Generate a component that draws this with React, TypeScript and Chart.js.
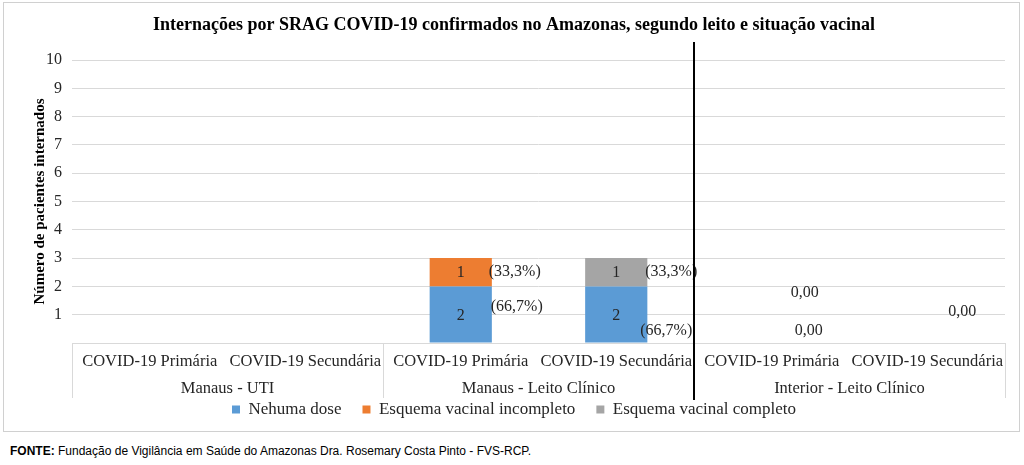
import React, { useEffect, useRef } from "react";
import { Chart, registerables } from "chart.js";

Chart.register(...registerables);

// ---- data ----
const subCategories = [
  "COVID-19 Primária",
  "COVID-19 Secundária",
  "COVID-19 Primária",
  "COVID-19 Secundária",
  "COVID-19 Primária",
  "COVID-19 Secundária",
];
const groups = ["Manaus - UTI", "Manaus - Leito Clínico", "Interior - Leito Clínico"];
const seriesNames = ["Nehuma dose", "Esquema vacinal incompleto", "Esquema vacinal completo"];
const nenhumaDose = [0, 0, 2, 2, 0, 0];
const incompleto = [0, 0, 1, 0, 0, 0];
const completo = [0, 0, 0, 1, 0, 0];
const yTicks = [1, 2, 3, 4, 5, 6, 7, 8, 9, 10];
const noteTexts = ["(66,7%)", "(33,3%)", "(33,3%)", "(66,7%)", "0,00", "0,00", "0,00"];
const noteCategory = [2, 2, 3, 3, 4, 4, 5];

// ---- label layout (positions only) ----
const noteValue = [1.27, 2.5, 2.5, 0.42, 1.77, 0.42, 1.1];
const noteDx = [30, 28, 29, 24, 33, 37, 35];
const noteAlign: CanvasTextAlign[] = ["left", "left", "left", "left", "center", "center", "center"];

const COLORS = ["#5b9bd5", "#ed7d31", "#a5a5a5"];
const SERIF = "'Liberation Serif', 'Times New Roman', serif";
const TEXT = "#262626";

const overlay = {
  id: "overlay",
  afterDraw(chart: any) {
    const { ctx, chartArea, scales } = chart;
    const xs = scales.x;
    const ys = scales.y;
    const bottom = chartArea.bottom;
    ctx.save();

    // table lines under axis
    ctx.strokeStyle = "#d9d9d9";
    ctx.lineWidth = 1;
    const bounds = [-0.5, 1.5, 3.5, 5.5];
    bounds.forEach((b) => {
      const px = Math.round(xs.getPixelForValue(b)) + 0.5;
      ctx.beginPath();
      ctx.moveTo(px, bottom);
      ctx.lineTo(px, bottom + 55);
      ctx.stroke();
    });

    // category labels
    ctx.fillStyle = TEXT;
    ctx.font = `16.5px ${SERIF}`;
    ctx.textAlign = "center";
    ctx.textBaseline = "middle";
    subCategories.forEach((s, i) => {
      ctx.fillText(s, xs.getPixelForValue(i), bottom + 19);
    });
    groups.forEach((g, gi) => {
      ctx.fillText(g, xs.getPixelForValue(gi * 2 + 0.5), bottom + 46);
    });

    // bar values
    ctx.font = `16px ${SERIF}`;
    chart.data.datasets.forEach((ds: any, di: number) => {
      const meta = chart.getDatasetMeta(di);
      meta.data.forEach((el: any, i: number) => {
        const v = ds.data[i];
        if (!v) return;
        const p = el.getProps(["x", "y", "base"], true);
        ctx.fillText(String(v), p.x, (p.y + p.base) / 2 + 1);
      });
    });

    // notes
    noteTexts.forEach((t, k) => {
      ctx.textAlign = noteAlign[k];
      ctx.fillText(t, xs.getPixelForValue(noteCategory[k]) + noteDx[k], ys.getPixelForValue(noteValue[k]));
    });

    // y axis title
    ctx.save();
    ctx.translate(40, (chartArea.top + chartArea.bottom) / 2);
    ctx.rotate(-Math.PI / 2);
    ctx.textAlign = "center";
    ctx.fillStyle = "#000";
    ctx.font = `bold 15px ${SERIF}`;
    ctx.fillText("Número de pacientes internados", 0, 0);
    ctx.restore();

    // black separator
    const sx = xs.getPixelForValue(3.5);
    ctx.strokeStyle = "#000";
    ctx.lineWidth = 2;
    ctx.beginPath();
    ctx.moveTo(sx, chartArea.top - 18);
    ctx.lineTo(sx, bottom + 57);
    ctx.stroke();

    ctx.restore();
  },
};

export default function App() {
  const ref = useRef<HTMLCanvasElement>(null);
  useEffect(() => {
    if (!ref.current) return;
    const chart = new Chart(ref.current, {
      type: "bar",
      data: {
        labels: subCategories,
        datasets: [nenhumaDose, incompleto, completo].map((d, i) => ({
          label: seriesNames[i],
          data: d,
          backgroundColor: COLORS[i],
          barPercentage: 0.4,
          categoryPercentage: 1,
        })),
      },
      options: {
        responsive: false,
        animation: false,
        layout: { padding: { left: 23, right: 19, top: 0, bottom: 3 } },
        plugins: {
          title: {
            display: true,
            text: "Internações por SRAG COVID-19 confirmados no Amazonas, segundo leito e situação vacinal",
            font: { family: SERIF, size: 18, weight: "bold" },
            color: "#000",
            padding: { top: 15, bottom: 23.4 },
          },
          legend: {
            position: "bottom",
            labels: {
              boxWidth: 8,
              boxHeight: 8,
              padding: 21,
              color: TEXT,
              font: { family: SERIF, size: 17 },
            },
          },
          tooltip: { enabled: false },
        },
        scales: {
          x: {
            stacked: true,
            grid: { display: false },
            border: { display: true, color: "#d9d9d9" },
            ticks: { display: false },
            afterFit: (s: any) => {
              s.height = 37;
            },
          },
          y: {
            stacked: true,
            min: 0,
            max: 10,
            afterBuildTicks: (s: any) => {
              s.ticks = [0, ...yTicks].map((v) => ({ value: v }));
            },
            ticks: {
              padding: 10,
              color: TEXT,
              font: { family: SERIF, size: 16 },
              callback: (v: any) => (v === 0 ? "" : String(v)),
            },
            grid: { color: "#d9d9d9", drawTicks: false },
            border: { display: false },
            afterFit: (s: any) => {
              s.width = 49;
            },
          },
        },
      },
      plugins: [overlay],
    });
    return () => chart.destroy();
  }, []);

  return (
    <div style={{ position: "absolute", left: 0, top: 0, width: 1024, height: 465, background: "#fff" }}>
      <div
        style={{
          position: "absolute",
          left: 3,
          top: 2,
          width: 1017,
          height: 430,
          border: "1px solid #d0d0d0",
          boxSizing: "border-box",
        }}
      />
      <canvas ref={ref} width={1024} height={431} style={{ position: "absolute", left: 0, top: 0 }} />
      <div
        style={{
          position: "absolute",
          left: 10,
          top: 444,
          fontFamily: "'Liberation Sans', Arial, sans-serif",
          fontSize: 12,
          color: "#000",
          whiteSpace: "nowrap",
        }}
      >
        <b>FONTE:</b> Fundação de Vigilância em Saúde do Amazonas Dra. Rosemary Costa Pinto - FVS-RCP.
      </div>
    </div>
  );
}
